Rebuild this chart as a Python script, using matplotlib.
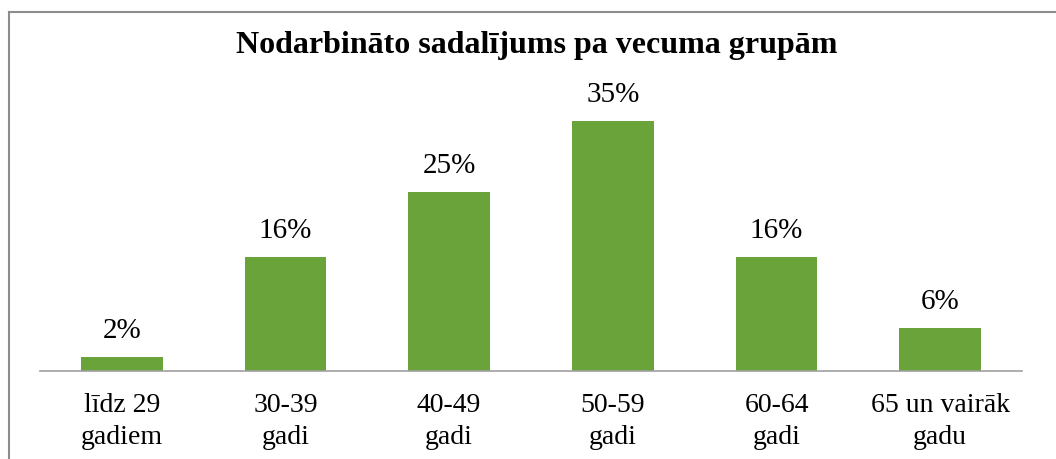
import matplotlib
matplotlib.use("Agg")
import matplotlib.pyplot as plt
from matplotlib.lines import Line2D

# data
categories = ["līdz 29\ngadiem", "30-39\ngadi", "40-49\ngadi", "50-59\ngadi", "60-64\ngadi", "65 un vairāk\ngadu"]
values = [2, 16, 25, 35, 16, 6]
title = "Nodarbināto sadalījums pa vecuma grupām"

plt.rcParams["font.family"] = ["Liberation Serif", "DejaVu Serif"]

fig = plt.figure(figsize=(10.56, 4.59), dpi=100)
ax = fig.add_axes([40 / 1056, 88 / 459, 982 / 1056, 286 / 459])

x = range(len(categories))
bars = ax.bar(x, values, width=0.5, color="#6aa33a")

ax.set_xlim(-0.5, len(categories) - 0.5)
ax.set_ylim(0, 40)
ax.set_yticks([])
for s in ["top", "right", "left"]:
    ax.spines[s].set_visible(False)
ax.spines["bottom"].set_color("#a0a0a0")
ax.spines["bottom"].set_linewidth(1.2)

ax.set_xticks(list(x))
ax.set_xticklabels(categories, fontsize=20, linespacing=1.36)
ax.tick_params(axis="x", length=0, pad=16)

for b, v in zip(bars, values):
    ax.annotate(f"{v}%", (b.get_x() + b.get_width() / 2, v), xytext=(0, 13.5),
                textcoords="offset points", ha="center", va="baseline", fontsize=21)

fig.text(537 / 1056, 1 - 45 / 459, title, ha="center", va="center",
         fontsize=23, fontweight="bold")

# outer chart frame (only top and left are visible in the crop)
fig.add_artist(Line2D([9 / 1056, 9 / 1056], [0, 1 - 12 / 459], transform=fig.transFigure,
                      color="#8c8c8c", linewidth=1.5))
fig.add_artist(Line2D([9 / 1056, 1], [1 - 12 / 459, 1 - 12 / 459], transform=fig.transFigure,
                      color="#8c8c8c", linewidth=1.5))

fig.savefig("out.png", dpi=100)
